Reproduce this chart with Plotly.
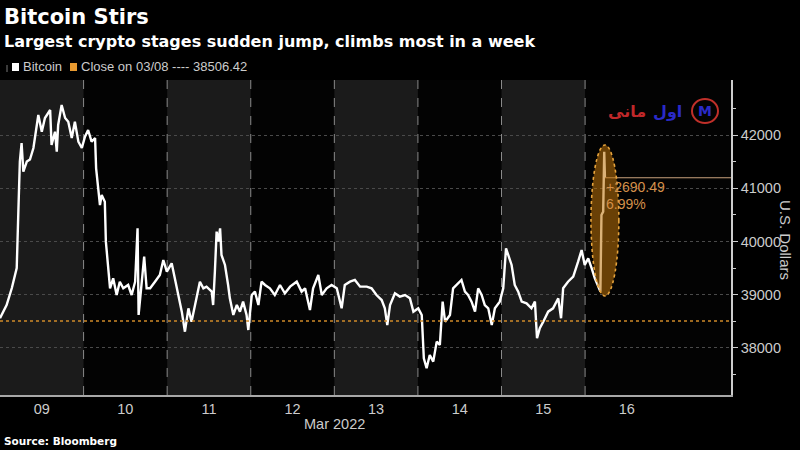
import plotly.graph_objects as go
import pandas as pd

# ---- data (hours after 2022-03-09 00:00, USD) ----
hours = [0.0, 1.9, 3.4, 4.8, 5.3, 5.7, 6.2, 6.7, 7.7, 8.6, 9.6, 10.5, 11.0, 12.0, 12.9, 14.4,
         14.8, 15.8, 16.3, 16.7, 17.7, 18.7, 19.6, 20.6, 21.5, 22.5, 23.5, 24.4, 25.3, 26.3,
         27.3, 27.6, 28.2, 28.7, 29.2, 30.1, 30.4, 31.1, 31.6, 32.5, 33.5, 34.4, 35.4, 36.8,
         37.8, 38.8, 39.5, 39.8, 40.7, 41.4, 42.1, 43.1, 44.5, 45.9, 46.9, 47.9, 49.3, 50.2,
         51.2, 52.2, 53.1, 54.1, 55.0, 56.0, 57.4, 58.4, 59.3, 60.8, 61.2, 61.7, 62.2, 62.7,
         63.2, 63.6, 64.6, 65.5, 66.0, 67.0, 68.0, 68.9, 69.8, 70.8, 71.3, 72.3, 73.2, 74.2,
         75.1, 76.1, 77.5, 78.9, 80.4, 81.8, 83.3, 85.2, 86.6, 87.6, 89.0, 89.9, 91.4, 92.4,
         93.8, 95.2, 96.7, 98.1, 99.0, 100.5, 101.9, 103.4, 105.3, 106.7, 108.1, 109.6, 110.5,
         111.2, 112.0, 113.4, 114.8, 116.3, 117.7, 118.7, 120.1, 121.1, 121.7, 122.5, 123.4,
         124.4, 125.4, 126.3, 127.1, 127.8, 129.2, 130.1, 131.1, 132.5, 133.5, 134.4, 135.4,
         136.4, 137.3, 138.3, 139.2, 140.2, 141.2, 142.1, 143.5, 144.5, 145.3, 145.9, 146.9,
         147.8, 148.8, 149.8, 151.2, 152.6, 153.6, 154.2, 155.0, 156.0, 157.4, 158.8, 160.3,
         161.1, 161.7, 163.1, 164.6, 166.0, 167.0, 167.9, 168.9, 169.9, 170.8, 171.8, 172.4,
         172.7, 173.2, 173.5, 173.7]
prices = [38558, 38807, 39127, 39502, 40629, 41500, 41850, 41311, 41500, 41540, 41756, 42131,
          42375, 42062, 42319, 42469, 41812, 42062, 41687, 42188, 42563, 42319, 42250, 41944,
          42250, 41874, 41756, 41968, 42094, 41874, 41944, 41374, 40935, 40685, 40873, 40748,
          39997, 39559, 39121, 39308, 38995, 39245, 39121, 39183, 38995, 39245, 40248, 38620,
          39183, 39715, 39121, 39121, 39245, 39371, 39653, 39433, 39590, 39308, 39058, 38682,
          38306, 38745, 38494, 38807, 39245, 39121, 39152, 39058, 38807, 39433, 40185, 39997,
          40248, 39747, 39559, 39183, 38933, 38620, 38807, 38682, 38870, 38620, 38338, 38995,
          39058, 38807, 39245, 39183, 39121, 38995, 39183, 39027, 39152, 39245, 39058, 39121,
          38714, 39121, 39371, 38995, 39121, 39183, 39121, 38745, 39183, 39245, 39277, 39152,
          39152, 39121, 38995, 38901, 38745, 38432, 38807, 39027, 38965, 38995, 38933, 38682,
          38745, 38620, 37807, 37619, 37869, 37744, 38119, 38056, 38870, 38494, 38620, 39121,
          39183, 39277, 39058, 38995, 38870, 38682, 39121, 38995, 38807, 38745, 38432, 38745,
          38870, 39121, 39873, 39747, 39559, 39183, 39058, 38870, 38839, 38745, 38870, 38182,
          38370, 38494, 38682, 38745, 38933, 38558, 39121, 39245, 39339, 39621, 39840, 39559,
          39684, 39496, 39308, 39152, 39058, 40498, 40560, 41687, 41196.91]

prev_close = 38506.42
change_label = "+2690.49"
pct_label = "6.99%"
day_labels = ["09", "10", "11", "12", "13", "14", "15", "16"]
y_ticks = [38000, 39000, 40000, 41000, 42000]

start = pd.Timestamp("2022-03-09 00:00")
times = [start + pd.Timedelta(hours=h) for h in hours]
x_end = start + pd.Timedelta(hours=209.9)
y_range = [37117, 43033]

# layout helpers (plot area: x 0..731 px, y 80..395 px)
PW, PT, PB = 731, 80, 395
def px(x):
    return x / PW
def py(y):
    return (PB - y) / (PB - PT)

fig = go.Figure()
fig.add_trace(go.Scatter(x=times, y=prices, mode="lines",
                         line=dict(color="#ffffff", width=2.4), hoverinfo="skip",
                         showlegend=False))

shapes = []
# alternating day bands (09, 11, 13, 15)
for i in range(0, 8, 2):
    d0 = start + pd.Timedelta(days=i)
    d1 = start + pd.Timedelta(days=i + 1)
    shapes.append(dict(type="rect", xref="x", yref="paper", x0=d0, x1=d1, y0=0, y1=1,
                       fillcolor="#1b1b1b", line=dict(width=0), layer="below"))
# day boundary dashed lines
for i in range(1, 8):
    d = start + pd.Timedelta(days=i)
    shapes.append(dict(type="line", xref="x", yref="paper", x0=d, x1=d, y0=0, y1=1,
                       line=dict(color="#8a8a8a", width=1, dash="dash"), layer="below"))
# previous close line
shapes.append(dict(type="line", xref="paper", yref="y", x0=0, x1=1, y0=prev_close, y1=prev_close,
                   line=dict(color="#d08a2a", width=1.6, dash="dot"), layer="above"))
# change marker line
shapes.append(dict(type="line", xref="x", yref="y", x0=times[-1], x1=x_end,
                   y0=prices[-1], y1=prices[-1], line=dict(color="#c9a27e", width=1.2)))
# highlight ellipse
shapes.append(dict(type="circle", xref="x", yref="y",
                   x0=start + pd.Timedelta(hours=169.7), x1=start + pd.Timedelta(hours=177.7),
                   y0=38977, y1=41812, fillcolor="rgba(190,115,10,0.55)",
                   line=dict(color="#e7a43c", width=1.6, dash="dot"), layer="above"))
# legend squares
shapes.append(dict(type="rect", xref="paper", yref="paper", x0=px(12), x1=px(19),
                   y0=py(71), y1=py(63), fillcolor="#ffffff", line=dict(width=0)))
shapes.append(dict(type="rect", xref="paper", yref="paper", x0=px(70), x1=px(77),
                   y0=py(71), y1=py(63), fillcolor="#e89a30", line=dict(width=0)))
shapes.append(dict(type="line", xref="paper", yref="paper", x0=px(7), x1=px(7),
                   y0=py(72), y1=py(65), line=dict(color="#777777", width=1)))
# watermark logo ring
shapes.append(dict(type="circle", xref="paper", yref="paper", x0=px(692), x1=px(718),
                   y0=py(123), y1=py(99), line=dict(color="#c0302a", width=2)))

ann = []
ann.append(dict(text="<b>Bitcoin Stirs</b>", x=px(2), y=py(17), xref="paper", yref="paper",
                xanchor="left", yanchor="middle", showarrow=False,
                font=dict(family="DejaVu Sans", size=21, color="#ffffff")))
ann.append(dict(text="<b>Largest crypto stages sudden jump, climbs most in a week</b>",
                x=px(2), y=py(42), xref="paper", yref="paper", xanchor="left", yanchor="middle",
                showarrow=False, font=dict(family="DejaVu Sans", size=16, color="#ffffff")))
ann.append(dict(text="Bitcoin", x=px(21), y=py(67), xref="paper", yref="paper",
                xanchor="left", yanchor="middle", showarrow=False,
                font=dict(family="Liberation Sans", size=13, color="#cccccc")))
ann.append(dict(text="Close on 03/08 ---- 38506.42", x=px(79), y=py(67), xref="paper",
                yref="paper", xanchor="left", yanchor="middle", showarrow=False,
                font=dict(family="Liberation Sans", size=13, color="#cccccc")))
ann.append(dict(text="<b>Source: Bloomberg</b>", x=px(2), y=py(441), xref="paper", yref="paper",
                xanchor="left", yanchor="middle", showarrow=False,
                font=dict(family="DejaVu Sans", size=10.5, color="#ffffff")))
ann.append(dict(text="Mar 2022", x=px(334), y=py(424), xref="paper", yref="paper",
                xanchor="center", yanchor="middle", showarrow=False,
                font=dict(family="Liberation Sans", size=14.5, color="#cccccc")))
ann.append(dict(text="U.S. Dollars", x=px(786), y=py(240), xref="paper", yref="paper",
                xanchor="center", yanchor="middle", showarrow=False, textangle=90,
                font=dict(family="Liberation Sans", size=15, color="#cccccc")))
ann.append(dict(text=change_label, x=px(604), y=py(187), xref="paper", yref="paper",
                xanchor="left", yanchor="middle", showarrow=False,
                font=dict(family="Liberation Sans", size=14, color="#d4904a")))
ann.append(dict(text=pct_label, x=px(604), y=py(204), xref="paper", yref="paper",
                xanchor="left", yanchor="middle", showarrow=False,
                font=dict(family="Liberation Sans", size=14, color="#d4904a")))
# watermark text
ann.append(dict(text="<b>مانی</b>", x=px(648), y=py(111), xref="paper", yref="paper",
                xanchor="right", yanchor="middle", showarrow=False,
                font=dict(family="DejaVu Sans", size=16, color="#c0282a")))
ann.append(dict(text="<b>اول</b>", x=px(684), y=py(111), xref="paper", yref="paper",
                xanchor="right", yanchor="middle", showarrow=False,
                font=dict(family="DejaVu Sans", size=16, color="#2a2ac8")))
ann.append(dict(text="<b>M</b>", x=px(705), y=py(111), xref="paper", yref="paper",
                xanchor="center", yanchor="middle", showarrow=False,
                font=dict(family="DejaVu Sans", size=14, color="#2a2ac8")))

fig.update_layout(
    width=800, height=450, autosize=False,
    margin=dict(l=0, r=800 - PW, t=PT, b=450 - PB),
    paper_bgcolor="#000000", plot_bgcolor="#030303",
    showlegend=False, shapes=shapes, annotations=ann,
    xaxis=dict(range=[start, x_end], showgrid=False, zeroline=False,
               tickmode="array",
               tickvals=[start + pd.Timedelta(hours=12 + 24 * i) for i in range(len(day_labels))],
               ticktext=day_labels, ticks="",
               tickfont=dict(family="Liberation Sans", size=14.5, color="#cccccc"),
               showline=True, linecolor="#a8a8a8", linewidth=1.5),
    yaxis=dict(range=y_range, side="right", tickmode="array", tickvals=y_ticks,
               ticktext=[str(v) for v in y_ticks], ticks="outside", ticklen=5,
               tickcolor="#cccccc", tickwidth=1,
               tickfont=dict(family="Liberation Sans", size=14.5, color="#cccccc"),
               showgrid=True, gridcolor="#4a4a4a", griddash="dot", gridwidth=1,
               zeroline=False, showline=True, linecolor="#cccccc", linewidth=1.5,
               minor=dict(tickmode="linear", tick0=37500, dtick=1000, ticks="outside",
                          ticklen=3, tickcolor="#cccccc", showgrid=False)),
)

fig.write_html("out.html")
